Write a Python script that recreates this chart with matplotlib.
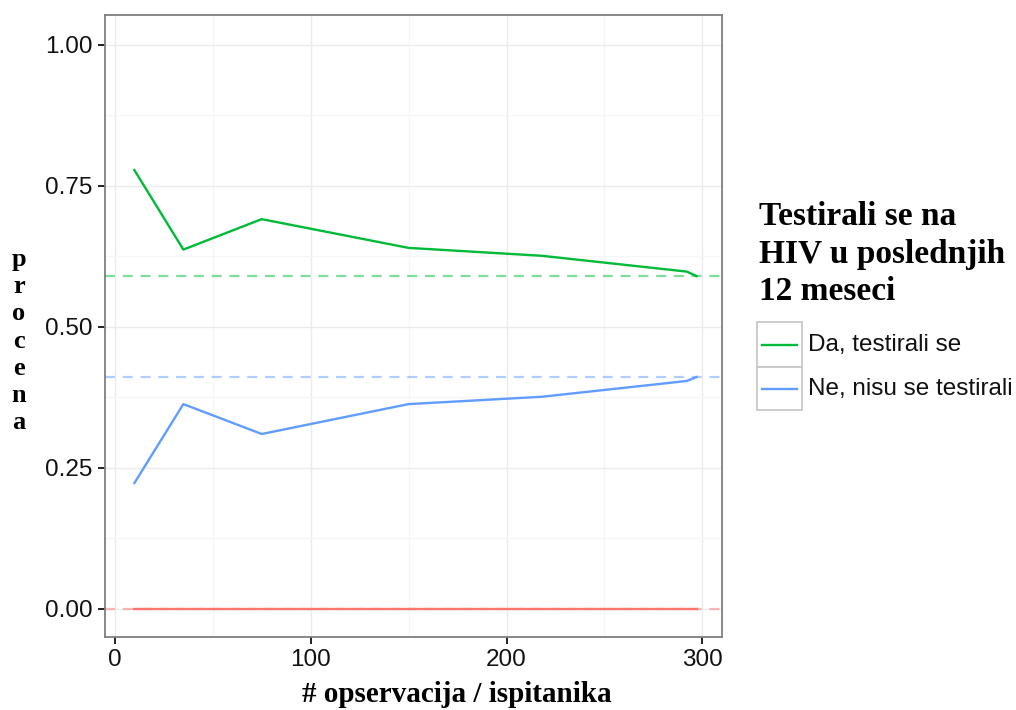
import matplotlib
matplotlib.use("Agg")
import matplotlib.pyplot as plt
from matplotlib.lines import Line2D
from matplotlib.patches import Rectangle
from matplotlib.ticker import MultipleLocator

# Cumulative estimate of the share as the number of observations grows
n_obs = [10, 35, 75, 150, 218, 292, 297]
tested_yes = [0.778, 0.637, 0.691, 0.640, 0.626, 0.598, 0.590]
tested_no = [0.223, 0.363, 0.310, 0.363, 0.376, 0.404, 0.411]
missing = [0.0, 0.0, 0.0, 0.0, 0.0, 0.0, 0.0]

# Final (population) estimates, drawn as dashed reference lines
final_yes = 0.590
final_no = 0.411
final_missing = 0.0

labels = ["Da, testirali se", "Ne, nisu se testirali"]
legend_title = "Testirali se na\nHIV u poslednjih\n12 meseci"
x_label = "# opservacija / ispitanika"
y_label = "procena"

GREEN = "#00BA38"
BLUE = "#619CFF"
RED = "#F8766D"

W, H = 1016, 710
fig = plt.figure(figsize=(W / 100, H / 100), dpi=100)
fig.patch.set_facecolor("white")

def fx(px):
    return px / W

def fy(py):
    return 1 - py / H

ax = fig.add_axes([fx(105), fy(637), fx(722) - fx(105), fy(15) - fy(637)])
ax.set_xlim(-5, 310)
ax.set_ylim(-0.05, 1.053)

ax.xaxis.set_minor_locator(MultipleLocator(50))
ax.yaxis.set_minor_locator(MultipleLocator(0.125))
ax.set_yticks([0, 0.25, 0.5, 0.75, 1.0])
ax.set_yticklabels(["0.00", "0.25", "0.50", "0.75", "1.00"])
ax.set_xticks([0, 100, 200, 300])
ax.set_xticklabels(["0", "100", "200", "300"])

ax.grid(which="major", color="#EBEBEB", lw=1.0, zorder=0)
ax.grid(which="minor", color="#F6F6F6", lw=0.9, zorder=0)
ax.set_axisbelow(True)

for s in ax.spines.values():
    s.set_color("#7F7F7F")
    s.set_linewidth(1.3)

ax.tick_params(which="major", length=5, width=1.4, color="#222222",
               labelsize=17.5, labelcolor="#111111", pad=4)
ax.tick_params(which="minor", length=0)
for t in ax.get_xticklabels() + ax.get_yticklabels():
    t.set_fontfamily("Liberation Sans")

# Dashed reference lines at the final estimates
dash = dict(ls=(0, (4.5, 3.5)), lw=1.6, alpha=0.5, zorder=2)
ax.axhline(final_yes, color=GREEN, **dash)
ax.axhline(final_no, color=BLUE, **dash)
ax.axhline(final_missing, color=RED, **dash)

# Running estimates
ax.plot(n_obs, missing, color=RED, lw=1.7, zorder=3)
ax.plot(n_obs, tested_yes, color=GREEN, lw=1.7, zorder=3)
ax.plot(n_obs, tested_no, color=BLUE, lw=1.7, zorder=3)

# Axis titles
fig.text(fx(457), fy(695), x_label, ha="center", va="center",
         fontfamily="Liberation Serif", fontweight="bold", fontsize=21)
fig.text(fx(19), fy(341), "\n".join(y_label), ha="center", va="center",
         fontfamily="Liberation Serif", fontweight="bold", fontsize=19,
         linespacing=1.23)

# Legend
fig.text(fx(759), fy(201), legend_title, ha="left", va="top",
         fontfamily="Liberation Serif", fontweight="bold", fontsize=24,
         linespacing=1.28)

key_x0, key_x1 = 757, 802
key_rows = [(322, 367), (367, 410)]
for (top, bot), color, lab in zip(key_rows, [GREEN, BLUE], labels):
    fig.patches.append(Rectangle((fx(key_x0), fy(bot)), fx(key_x1) - fx(key_x0),
                                 fy(top) - fy(bot), transform=fig.transFigure,
                                 facecolor="white", edgecolor="#C8C8C8", lw=1.3))
    yc = (top + bot) / 2
    fig.lines.append(Line2D([fx(762), fx(797)], [fy(yc), fy(yc)],
                            transform=fig.transFigure, color=color, lw=1.7))
    fig.text(fx(808), fy(yc), lab, ha="left", va="center",
             fontfamily="Liberation Sans", fontsize=17.5, color="#111111")

fig.savefig("out.png", dpi=100, facecolor="white")
